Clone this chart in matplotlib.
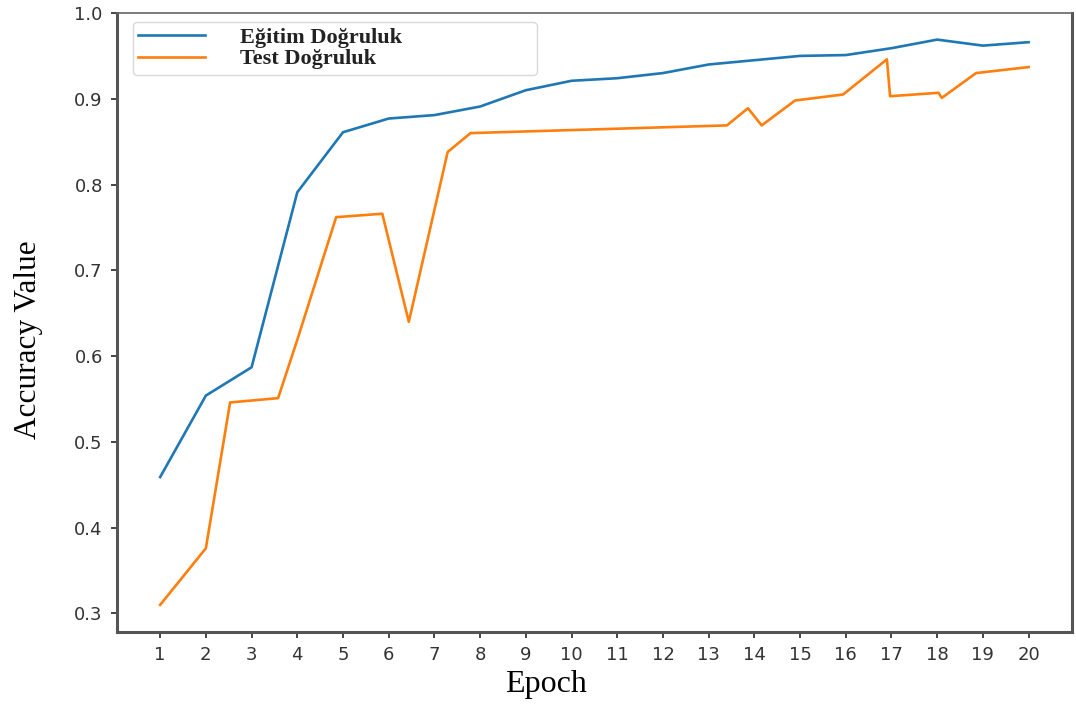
import matplotlib.pyplot as plt

# training accuracy per epoch
train_epochs = [1, 2, 3, 4, 5, 6, 7, 8, 9, 10, 11, 12, 13, 14, 15, 16, 17, 18, 19, 20]
train_acc = [0.459, 0.554, 0.587, 0.791, 0.861, 0.877, 0.881, 0.891, 0.910, 0.921,
             0.924, 0.930, 0.940, 0.945, 0.950, 0.951, 0.959, 0.969, 0.962, 0.966]

# test accuracy, logged at uneven steps
test_epochs = [1, 2, 2.53, 3.58, 4.0, 4.85, 5.86, 6.44, 7.29, 7.79, 13.4, 13.86,
               14.16, 14.89, 15.94, 16.9, 16.97, 18.03, 18.1, 18.85, 20]
test_acc = [0.310, 0.376, 0.546, 0.551, 0.619, 0.762, 0.766, 0.640, 0.838, 0.860,
            0.869, 0.889, 0.869, 0.898, 0.905, 0.946, 0.903, 0.907, 0.901, 0.930, 0.937]

xticks = list(range(1, 21))
yticks = [0.3, 0.4, 0.5, 0.6, 0.7, 0.8, 0.9, 1.0]

SERIF = 'Liberation Serif'

fig = plt.figure(figsize=(10.76, 7.08), dpi=100)
ax = fig.add_axes([0.1085, 0.1069, 0.8878, 0.8747])

ax.plot(train_epochs, train_acc, color='#1f77b4', lw=1.9, label='Eğitim Doğruluk')
ax.plot(test_epochs, test_acc, color='#ff7f0e', lw=1.9, label='Test Doğruluk')

ax.set_xlim(0.05, 20.95)
ax.set_ylim(0.278, 1.0)
ax.set_xticks(xticks)
ax.set_yticks(yticks)
ax.set_yticklabels(['%.1f' % v for v in yticks])
ax.tick_params(axis='both', length=4, width=1.4, color='#444', labelsize=13,
               labelcolor='#333', pad=6)

for side in ['left', 'bottom', 'right']:
    ax.spines[side].set_color('#555')
    ax.spines[side].set_linewidth(2.2)
ax.spines['top'].set_color('#666')
ax.spines['top'].set_linewidth(1.2)

ax.set_xlabel('Epoch', fontfamily=SERIF, fontsize=23)
ax.set_ylabel('Accuracy Value', fontfamily=SERIF, fontsize=22.5)
ax.xaxis.set_label_coords(0.449, -0.061)
ax.yaxis.set_label_coords(-0.077, 0.472)

# legend box spans roughly the left 40% of the axes, just under the top edge
leg = ax.legend(loc='upper left', bbox_to_anchor=(0.0167, 0.905, 0.423, 0.081),
                mode='expand', borderaxespad=0, handlelength=3.0, handletextpad=1.6,
                labelspacing=0.05, borderpad=0.25,
                prop={'family': SERIF, 'size': 16, 'weight': 'bold'})
leg.get_frame().set_edgecolor('#d0d0d0')
for t in leg.get_texts():
    t.set_color('#222')

fig.savefig('out.png', dpi=100)
